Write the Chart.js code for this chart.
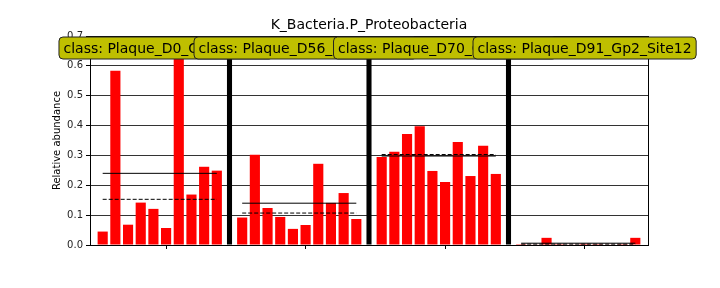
<!DOCTYPE html>
<html>
<head>
<meta charset="utf-8">
<script src="https://cdn.jsdelivr.net/npm/chart.js@4/dist/chart.umd.min.js"></script>
<style>
  html, body { margin: 0; padding: 0; background: #fff; }
  #myChart { display: block; }
</style>
</head>
<body>
<canvas id="myChart" width="720" height="288"></canvas>
<script>
'use strict'
// one entry per class, 10 samples each
const chartTitle = 'K_Bacteria.P_Proteobacteria';
const classes = ['Plaque_D0_Gp2_Site12', 'Plaque_D56_Gp2_Site12', 'Plaque_D70_Gp2_Site12', 'Plaque_D91_Gp2_Site12'];
const d0 = [0.045, 0.584, 0.068, 0.142, 0.121, 0.057, 0.70, 0.169, 0.262, 0.249];
const d56 = [0.092, 0.302, 0.124, 0.094, 0.054, 0.067, 0.272, 0.141, 0.174, 0.087];
const d70 = [0.295, 0.312, 0.372, 0.398, 0.248, 0.211, 0.345, 0.231, 0.332, 0.238];
const d91 = [0.003, 0.002, 0.024, 0.003, 0.002, 0.004, 0.003, 0.002, 0.003, 0.024];
const means = [0.240, 0.140, 0.298, 0.006];
const medians = [0.153, 0.107, 0.303, 0.003];
const yTicks = [0, 0.1, 0.2, 0.3, 0.4, 0.5, 0.6, 0.7];

let groupVals = [d0, d56, d70, d91];
let slot = 11; // 10 bars + 1 separator
let barPts = [];
let sepPts = [];
let meanPts = [];
let medianPts = [];
let groupTicks = [];
groupVals.forEach((vals, g) => {
    let start = g * slot;
    vals.forEach((v, i) => barPts.push({x: start + i, y: v}));
    if (g < groupVals.length - 1) sepPts.push({x: start + vals.length, y: 0.7});
    meanPts.push({x: start, y: means[g]}, {x: start + vals.length - 1, y: means[g]}, {x: start + vals.length, y: null});
    medianPts.push({x: start, y: medians[g]}, {x: start + vals.length - 1, y: medians[g]}, {x: start + vals.length, y: null});
    groupTicks.push(start + 5);
});

const framePlugin = {
    id: 'frame',
    afterDatasetsDraw(chart) {
        let a = chart.chartArea;
        let ctx = chart.ctx;
        ctx.save();
        ctx.strokeStyle = '#000';
        ctx.lineWidth = 1;
        ctx.strokeRect(Math.round(a.left) + 0.5, Math.round(a.top) + 0.5, Math.round(a.right - a.left), Math.round(a.bottom - a.top));
        ctx.restore();
    }
};

// title centred over the plot area, then the class boxes on top
const classLabels = {
    id: 'classLabels',
    afterDraw(chart) {
        let ctx = chart.ctx;
        let xs = chart.scales.x;
        let a = chart.chartArea;
        ctx.save();
        ctx.font = '14px "DejaVu Sans"';
        ctx.textAlign = 'center';
        ctx.textBaseline = 'alphabetic';
        ctx.fillStyle = '#000';
        ctx.fillText(chartTitle, (a.left + a.right) / 2, 29);

        ctx.textBaseline = 'middle';
        classes.forEach((c, g) => {
            let txt = 'class: ' + c;
            let w = ctx.measureText(txt).width + 9;
            let cx = xs.getPixelForValue(groupTicks[g]);
            let top = 37, h = 22;
            ctx.beginPath();
            ctx.roundRect(cx - w / 2, top, w, h, 4);
            ctx.fillStyle = '#bfbf00';
            ctx.fill();
            ctx.strokeStyle = '#222';
            ctx.lineWidth = 1;
            ctx.stroke();
            ctx.fillStyle = '#000';
            ctx.fillText(txt, cx, top + h / 2 + 1);
        });
        ctx.restore();
    }
};

let ctx = document.getElementById('myChart');
let myChart = new Chart(ctx, {
    type: 'bar',
    data: {
        datasets: [{
            type: 'line',
            label: 'mean',
            data: meanPts,
            borderColor: '#000',
            borderWidth: 1,
            pointRadius: 0,
            spanGaps: false,
            order: 0
        },
        {
            type: 'line',
            label: 'median',
            data: medianPts,
            borderColor: '#000',
            borderWidth: 1,
            borderDash: [4, 2],
            pointRadius: 0,
            spanGaps: false,
            order: 0
        },
        {
            label: 'samples',
            data: barPts,
            backgroundColor: '#ff0000',
            barPercentage: 0.8,
            categoryPercentage: 1,
            grouped: false,
            order: 1
        },
        {
            label: 'sep',
            data: sepPts,
            backgroundColor: '#000',
            barPercentage: 0.4,
            categoryPercentage: 1,
            grouped: false,
            order: 1
        }]
    },
    options: {
        responsive: false,
        animation: false,
        events: [],
        layout: { padding: { left: 51, right: 72, top: 36, bottom: 0 } },
        plugins: {
            legend: { display: false },
            tooltip: { enabled: false },
            title: { display: false }
        },
        scales: {
            x: {
                type: 'linear',
                min: -1,
                max: 43,
                offset: false,
                afterFit(s) { s.height = 43; },
                afterBuildTicks(s) { s.ticks = groupTicks.map(v => ({value: v})); },
                ticks: { callback: () => '', autoSkip: false },
                grid: { offset: false, drawOnChartArea: false, drawTicks: true, tickLength: 4, color: '#000' },
                border: { color: '#000' }
            },
            y: {
                min: 0,
                max: 0.7,
                afterFit(s) { s.width = 39; },
                afterBuildTicks(s) { s.ticks = yTicks.map(v => ({value: v})); },
                ticks: {
                    color: '#222',
                    padding: 3,
                    font: { family: 'DejaVu Sans', size: 10 },
                    callback: v => v.toFixed(1)
                },
                grid: { color: '#333', tickLength: 4, tickColor: '#000' },
                border: { color: '#000' },
                title: {
                    display: true,
                    text: 'Relative abundance',
                    color: '#000',
                    font: { family: 'DejaVu Sans', size: 10 },
                    padding: 0
                }
            }
        }
    },
    plugins: [framePlugin, classLabels]
});
</script>
</body>
</html>
